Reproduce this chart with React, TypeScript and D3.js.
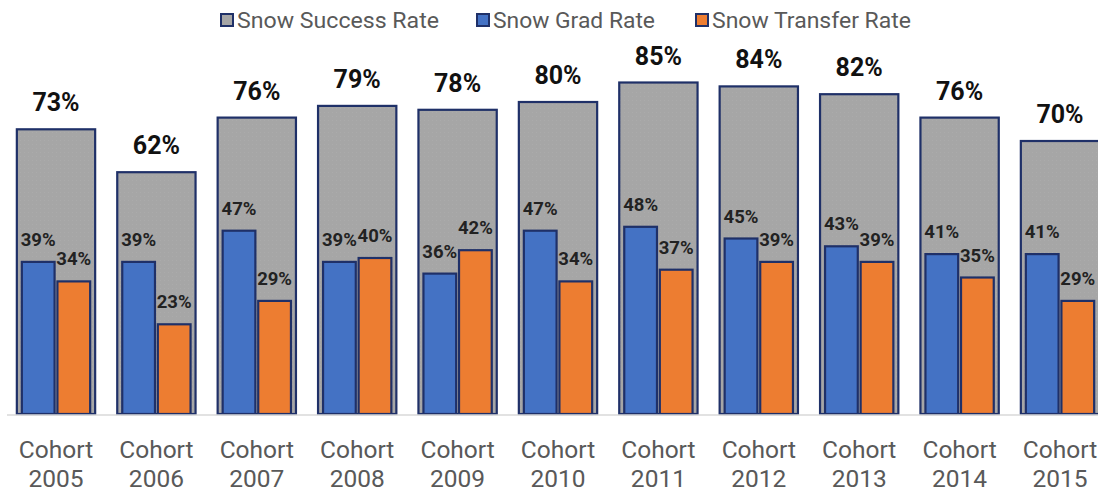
import React from "react";
import * as d3 from "d3";

const categories = ["2005", "2006", "2007", "2008", "2009", "2010", "2011", "2012", "2013", "2014", "2015"];
const successRate = [73, 62, 76, 79, 78, 80, 85, 84, 82, 76, 70];
const gradRate = [39, 39, 47, 39, 36, 47, 48, 45, 43, 41, 41];
const transferRate = [34, 23, 29, 40, 42, 34, 37, 39, 39, 35, 29];
const legendLabels = ["Snow Success Rate", "Snow Grad Rate", "Snow Transfer Rate"];

const W = 1098;
const H = 492;
const FONT = "Roboto, 'Noto Sans', sans-serif";
const GRAY = "#A6A6A6";
const BLUE = "#4472C4";
const ORANGE = "#ED7D31";
const NAVY = "#1F3068";

export default function App() {
  const step = 100.4;
  const x = d3
    .scaleBand<string>()
    .domain(categories)
    .range([56 - step / 2, 56 - step / 2 + step * categories.length])
    .paddingInner(0.22)
    .paddingOuter(0.11);
  const y = d3.scaleLinear().domain([0, 100]).range([414, 24]);
  const bw = x.bandwidth();
  const inner = d3.scaleBand<string>().domain(["g", "t"]).range([5, bw - 5]).paddingInner(0.08);

  const legendColors = [GRAY, BLUE, ORANGE];
  const legendX = [220, 476, 695];
  const legendW = [202, 162, 199];

  return (
    <svg width={W} height={H} style={{ position: "absolute", left: 0, top: 0, background: "#fff" }} fontFamily={FONT}>
      <defs>
        <pattern id="tex" width="4" height="4" patternUnits="userSpaceOnUse">
          <rect width="4" height="4" fill={GRAY} />
          <rect width="1" height="1" fill="#ABABAB" />
        </pattern>
      </defs>
      {/* legend */}
      {legendLabels.map((l, i) => (
        <g key={l}>
          <rect x={legendX[i] + 1} y={14} width={12} height={12} fill={legendColors[i]} stroke={NAVY} strokeWidth={2} />
          <text x={legendX[i] + 17} y={28} fontSize={22.5} fill="#595959" textLength={legendW[i]} lengthAdjust="spacingAndGlyphs">
            {l}
          </text>
        </g>
      ))}
      {/* bars */}
      {categories.map((c, i) => {
        const x0 = x(c)!;
        return (
          <g key={c}>
            <rect x={x0} y={y(successRate[i])} width={bw} height={y(0) - y(successRate[i])} fill="url(#tex)" stroke={NAVY} strokeWidth={2.2} />
            <rect x={x0 + inner("g")!} y={y(gradRate[i])} width={inner.bandwidth()} height={y(0) - y(gradRate[i])} fill={BLUE} stroke={NAVY} strokeWidth={2.2} />
            <rect x={x0 + inner("t")!} y={y(transferRate[i])} width={inner.bandwidth()} height={y(0) - y(transferRate[i])} fill={ORANGE} stroke={NAVY} strokeWidth={2.2} />
            <text x={x0 + bw / 2} y={y(successRate[i]) - 18} textAnchor="middle" fontSize={25} fontWeight="bold" fill="#111">
              {successRate[i]}%
            </text>
            <text x={x0 + inner("g")! + inner.bandwidth() / 2} y={y(gradRate[i]) - 16} textAnchor="middle" fontSize={18.5} fontWeight="bold" fill="#222">
              {gradRate[i]}%
            </text>
            <text x={x0 + inner("t")! + inner.bandwidth() / 2} y={y(transferRate[i]) - 16} textAnchor="middle" fontSize={18.5} fontWeight="bold" fill="#222">
              {transferRate[i]}%
            </text>
          </g>
        );
      })}
      {/* axis line */}
      <line x1={7} x2={W} y1={y(0) + 1} y2={y(0) + 1} stroke="#D9D9D9" strokeWidth={1.5} />
      {categories.map((c) => (
        <text key={c} x={x(c)! + bw / 2} textAnchor="middle" fontSize={24.5} fill="#595959">
          <tspan x={x(c)! + bw / 2} y={458}>Cohort</tspan>
          <tspan x={x(c)! + bw / 2} y={487}>{c}</tspan>
        </text>
      ))}
    </svg>
  );
}
